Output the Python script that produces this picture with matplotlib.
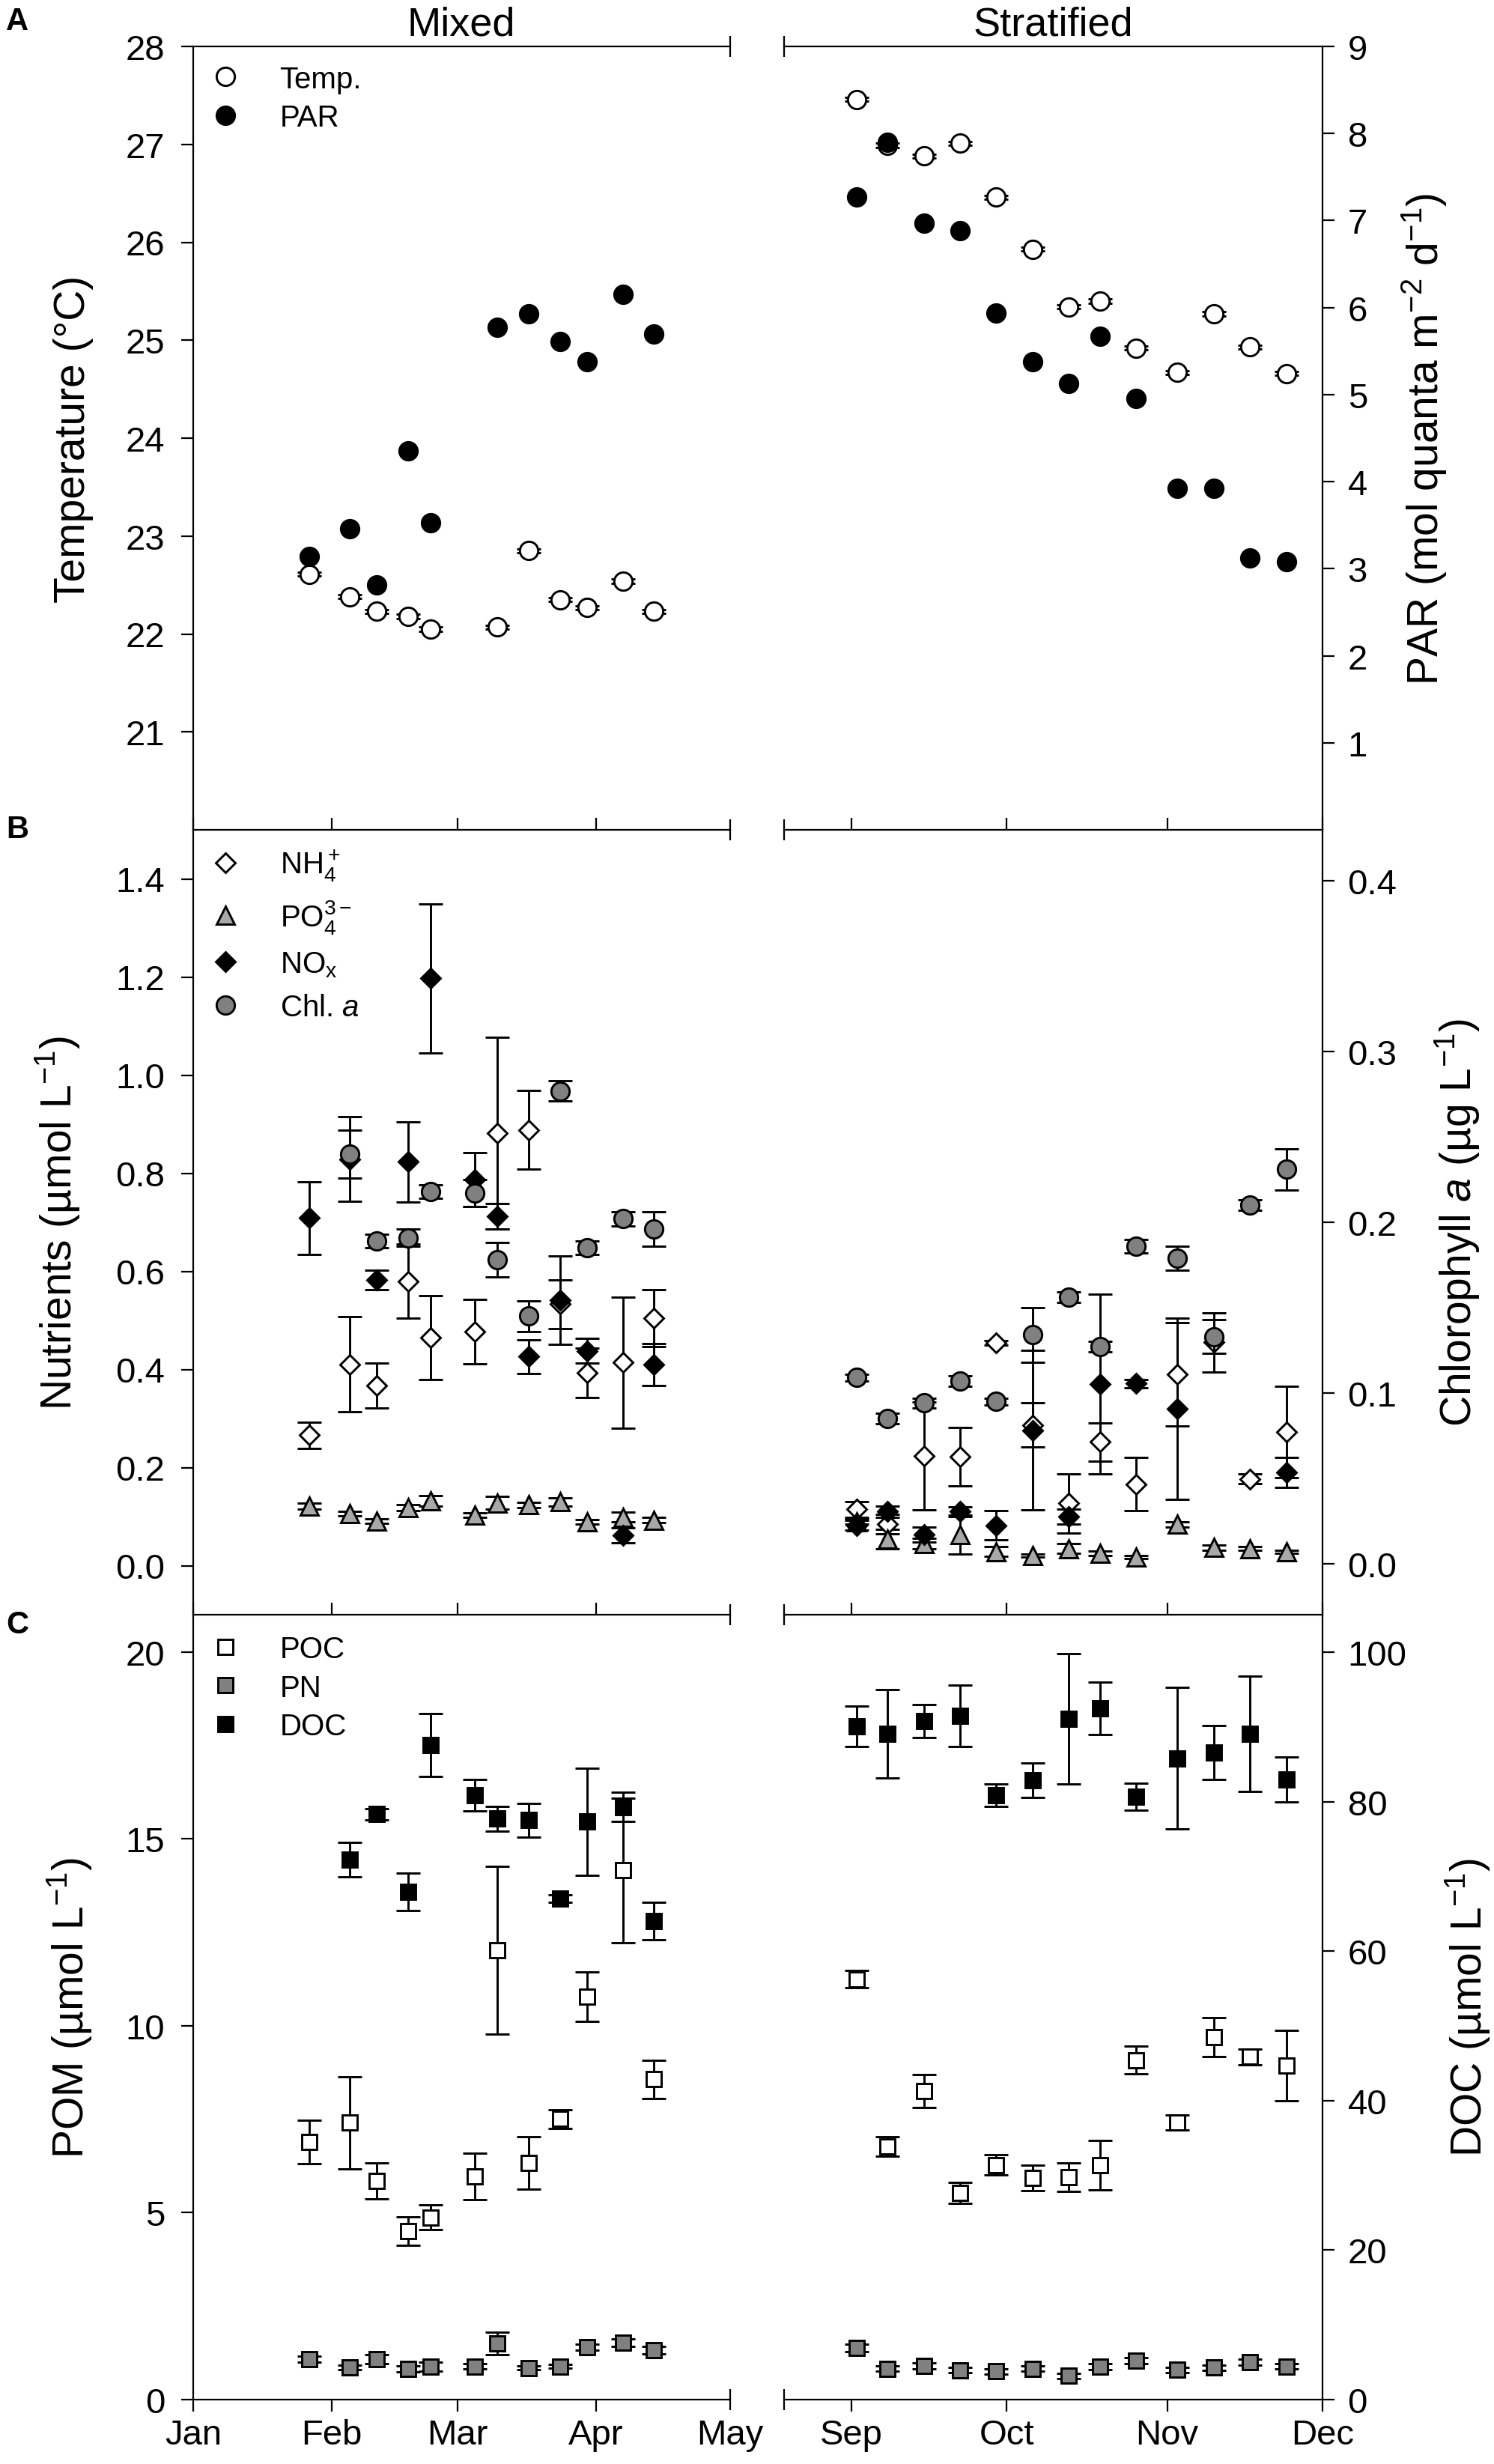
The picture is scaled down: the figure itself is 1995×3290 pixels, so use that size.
import numpy as np
import pandas as pd
import matplotlib
matplotlib.use("Agg")
import matplotlib.pyplot as plt
import matplotlib.dates as mdates
from matplotlib.lines import Line2D
from matplotlib.ticker import FixedLocator, FormatStrFormatter, NullFormatter

plt.rcParams.update({
    "font.family": ["Liberation Sans", "DejaVu Sans"],
    "mathtext.fontset": "custom",
    "mathtext.rm": "Liberation Sans",
    "mathtext.it": "Liberation Sans:italic",
    "mathtext.bf": "Liberation Sans:bold",
    "mathtext.default": "regular",
})

nan = np.nan

# ---------------- data ----------------
period_titles = ["Mixed", "Stratified"]
mixed_dates = ["2017-01-27", "2017-02-05", "2017-02-11", "2017-02-18", "2017-02-23",
               "2017-03-05", "2017-03-10", "2017-03-17", "2017-03-24", "2017-03-30",
               "2017-04-07", "2017-04-14"]
strat_dates = ["2017-09-02", "2017-09-08", "2017-09-15", "2017-09-22", "2017-09-29",
               "2017-10-06", "2017-10-13", "2017-10-19", "2017-10-26", "2017-11-03",
               "2017-11-10", "2017-11-17", "2017-11-24"]
mixed_xlim = ["2017-01-01", "2017-05-01"]
strat_xlim = ["2017-08-19", "2017-12-01"]
mixed_month_ticks = ["2017-01-01", "2017-02-01", "2017-03-01", "2017-04-01"]
strat_month_ticks = ["2017-09-01", "2017-10-01", "2017-11-01", "2017-12-01"]

# Panel A
temp_mixed = [22.61, 22.38, 22.23, 22.18, 22.05, nan, 22.07, 22.85, 22.35, 22.27, 22.54, 22.23]
temp_mixed_err = [0.02, 0.02, 0.02, 0.02, 0.02, nan, 0.02, 0.02, 0.02, 0.02, 0.02, 0.02]
par_mixed = [3.14, 3.46, 2.81, 4.35, 3.53, nan, 5.77, 5.93, 5.61, 5.38, 6.15, 5.70]
temp_strat = [27.46, 26.99, 26.88, 27.01, 26.46, 25.93, 25.34, 25.40, 24.92, 24.67, 25.27, 24.93, 24.66]
temp_strat_err = [0.02, 0.02, 0.02, 0.02, 0.02, 0.02, 0.02, 0.02, 0.02, 0.02, 0.02, 0.02, 0.02]
par_strat = [7.27, 7.90, 6.97, 6.88, 5.94, 5.38, 5.13, 5.67, 4.96, 3.92, 3.92, 3.12, 3.08]

# Panel B
nh4_mixed = [0.266, 0.41, 0.367, 0.58, 0.465, 0.477, 0.882, 0.888, 0.533, 0.393, 0.414, 0.505]
nh4_mixed_err = [0.027, 0.097, 0.046, 0.075, 0.085, 0.066, 0.195, 0.08, 0.05, 0.05, 0.134, 0.058]
po4_mixed = [0.121, 0.106, 0.091, 0.118, 0.132, 0.103, 0.128, 0.124, 0.130, 0.089, 0.099, 0.093]
po4_mixed_err = [0.006, 0.005, 0.005, 0.006, 0.010, 0.005, 0.013, 0.005, 0.008, 0.005, 0.010, 0.005]
nox_mixed = [0.709, 0.829, 0.582, 0.823, 1.197, 0.787, 0.712, 0.426, 0.541, 0.438, 0.062, 0.410]
nox_mixed_err = [0.074, 0.087, 0.020, 0.082, 0.152, 0.055, 0.026, 0.035, 0.090, 0.025, 0.015, 0.043]
chl_mixed = [nan, 0.240, 0.189, 0.191, 0.218, 0.217, 0.178, 0.145, 0.277, 0.185, 0.202, 0.196]
chl_mixed_err = [nan, 0.014, 0.004, 0.005, 0.004, 0.008, 0.010, 0.009, 0.006, 0.004, 0.004, 0.010]

nh4_strat = [0.115, 0.085, 0.224, 0.222, 0.454, 0.287, 0.127, 0.252, 0.166, 0.390, 0.455, 0.177, 0.272]
nh4_strat_err = [0.016, 0.020, 0.110, 0.060, 0.005, 0.045, 0.060, 0.039, 0.054, 0.105, 0.060, 0.010, 0.093]
po4_strat = [0.090, 0.054, 0.045, 0.063, 0.029, 0.020, 0.035, 0.025, 0.018, 0.084, 0.037, 0.035, 0.028]
po4_strat_err = [0.005, 0.020, 0.010, 0.040, 0.010, 0.003, 0.010, 0.005, 0.003, 0.005, 0.005, 0.004, 0.003]
nox_strat = [0.082, 0.110, 0.063, 0.110, 0.082, 0.276, 0.100, 0.370, 0.371, 0.320, nan, nan, 0.190]
nox_strat_err = [0.010, 0.012, 0.015, 0.010, 0.030, 0.163, 0.015, 0.183, 0.008, 0.185, nan, nan, 0.030]
chl_strat = [0.109, 0.085, 0.094, 0.107, 0.095, 0.134, 0.156, 0.127, 0.186, 0.179, 0.133, 0.210, 0.231]
chl_strat_err = [0.002, 0.003, 0.003, 0.003, 0.002, 0.016, 0.003, 0.003, 0.004, 0.007, 0.010, 0.003, 0.012]

# Panel C
poc_mixed = [6.90, 7.41, 5.85, 4.50, 4.87, 5.97, 12.02, 6.34, 7.51, 10.78, 14.16, 8.57]
poc_mixed_err = [0.58, 1.23, 0.48, 0.38, 0.33, 0.62, 2.24, 0.70, 0.25, 0.67, 1.93, 0.51]
pn_mixed = [1.09, 0.86, 1.09, 0.83, 0.88, 0.89, 1.50, 0.85, 0.89, 1.41, 1.53, 1.32]
pn_mixed_err = [0.08, 0.06, 0.12, 0.08, 0.12, 0.07, 0.30, 0.05, 0.05, 0.08, 0.10, 0.10]
doc_mixed = [nan, 72.2, 78.3, 67.9, 87.6, 80.9, 77.7, 77.5, 67.0, 77.3, 79.3, 64.0]
doc_mixed_err = [nan, 2.3, 0.8, 2.5, 4.2, 2.1, 1.7, 2.3, 0.5, 7.2, 2.0, 2.5]

poc_strat = [11.25, 6.78, 8.25, 5.53, 6.28, 5.93, 5.96, 6.28, 9.08, 7.41, 9.69, 9.17, 8.93]
poc_strat_err = [0.23, 0.26, 0.44, 0.29, 0.27, 0.34, 0.38, 0.66, 0.37, 0.20, 0.52, 0.21, 0.94]
pn_strat = [1.39, 0.83, 0.91, 0.79, 0.76, 0.83, 0.64, 0.89, 1.05, 0.80, 0.86, 1.00, 0.89]
pn_strat_err = [0.10, 0.07, 0.08, 0.07, 0.07, 0.07, 0.07, 0.08, 0.08, 0.07, 0.07, 0.08, 0.07]
doc_strat = [90.1, 89.1, 90.8, 91.5, 80.9, 82.9, 91.1, 92.5, 80.7, 85.8, 86.6, 89.1, 83.0]
doc_strat_err = [2.7, 5.9, 2.2, 4.1, 1.5, 2.3, 8.7, 3.5, 1.8, 9.5, 3.6, 7.7, 3.0]

# axis scales / ticks
temp_lim, par_lim = (20, 28), (0, 9)
temp_ticks, par_ticks = [21, 22, 23, 24, 25, 26, 27, 28], [1, 2, 3, 4, 5, 6, 7, 8, 9]
nut_lim, chl_lim = (-0.1, 1.5), (-0.03, 0.43)
nut_ticks, chl_ticks = [0.0, 0.2, 0.4, 0.6, 0.8, 1.0, 1.2, 1.4], [0.0, 0.1, 0.2, 0.3, 0.4]
pom_lim, doc_lim = (0, 21), (0, 105)
pom_ticks, doc_ticks = [0, 5, 10, 15, 20], [0, 20, 40, 60, 80, 100]

legend_A = ["Temp.", "PAR"]
legend_B = ["NH$_4^+$", "PO$_4^{3-}$", "NO$_x$", r"Chl. $\mathit{a}$"]
legend_C = ["POC", "PN", "DOC"]
ylabels_left = ["Temperature (°C)", "Nutrients (µmol L$^{-1}$)", "POM (µmol L$^{-1}$)"]
ylabels_right = ["PAR (mol quanta m$^{-2}$ d$^{-1}$)", r"Chlorophyll $\mathit{a}$ (µg L$^{-1}$)",
                 "DOC (µmol L$^{-1}$)"]
panel_letters = ["A", "B", "C"]


def to_num(seq):
    return mdates.date2num(pd.to_datetime(seq).to_pydatetime())


# ---------------- layout ----------------
W, H = 1995, 3291
fig = plt.figure(figsize=(W / 100, H / 100), dpi=100)
col_px = [(258, 975), (1047, 1766)]
row_px = [(63, 1109), (1109, 2157), (2157, 3205)]


def frac_rect(c, r):
    x0, x1 = col_px[c]
    y0, y1 = row_px[r]
    return [x0 / W, 1 - y1 / H, (x1 - x0) / W, (y1 - y0) / H]


TICK = 11.2
TW = 1.6
LBL = 34
LW = 2.1
CAP = 11.6
GRAY = "#808080"
LGRAY = "#A8A8A8"

MS_O, MS_D, MS_T, MS_S = 17.5, 13.5, 17, 14.8

xlims = [mixed_xlim, strat_xlim]
months = [mixed_month_ticks, strat_month_ticks]
dates = [mixed_dates, strat_dates]


def eb(axis, x, y, yerr, marker, ms, face):
    axis.errorbar(x, y, yerr=yerr, fmt=marker, ms=ms, mfc=face, mec="black", mew=LW,
                  ecolor="black", elinewidth=LW, capsize=CAP, capthick=LW, ls="none")


def style(ax, tx, c, r, ylim_l, yt_l, ylim_r, yt_r, fmt):
    xl = to_num(xlims[c])
    ax.set_xlim(xl[0], xl[1])
    ax.xaxis.set_major_locator(FixedLocator(to_num(months[c])))
    ax.xaxis.set_minor_locator(FixedLocator([xl[1] if c == 0 else xl[0]]))
    ax.xaxis.set_major_formatter(mdates.DateFormatter("%b"))
    ax.xaxis.set_minor_formatter(mdates.DateFormatter("%b") if c == 0 else NullFormatter())
    ax.tick_params(axis="x", which="major", direction="out", length=TICK, width=TW,
                   top=(r > 0), bottom=(r == 2), labeltop=False, labelbottom=(r == 2),
                   labelsize=LBL, pad=7)
    ax.tick_params(axis="x", which="minor", direction="inout", length=2 * 10, width=TW,
                   top=True, bottom=(r == 2), labeltop=False,
                   labelbottom=(r == 2 and c == 0), labelsize=LBL, pad=8.2)
    for s in ["left", "right", "top", "bottom"]:
        tx.spines[s].set_visible(False)
        ax.spines[s].set_linewidth(TW)
        tx.spines[s].set_linewidth(TW)
    ax.spines["right"].set_visible(False)
    ax.spines["left"].set_visible(c == 0)
    ax.spines["bottom"].set_visible(r == 2)
    ax.spines["top"].set_visible(True)
    if c == 1:
        tx.spines["right"].set_visible(True)
    ax.set_ylim(*ylim_l)
    tx.set_ylim(*ylim_r)
    ax.yaxis.set_major_locator(FixedLocator(yt_l))
    tx.yaxis.set_major_locator(FixedLocator(yt_r))
    ax.yaxis.set_major_formatter(FormatStrFormatter(fmt))
    tx.yaxis.set_major_formatter(FormatStrFormatter(fmt))
    if c == 0:
        ax.tick_params(axis="y", which="both", left=True, right=False, direction="out",
                       length=TICK, width=TW, labelsize=LBL, pad=16, labelleft=True)
        tx.tick_params(axis="y", which="both", left=False, right=False,
                       labelleft=False, labelright=False)
    else:
        ax.tick_params(axis="y", which="both", left=False, right=False,
                       labelleft=False, labelright=False)
        tx.tick_params(axis="y", which="both", right=True, left=False, direction="out",
                       length=TICK, width=TW, labelsize=LBL, pad=13, labelright=True)


axes = {}
for c in range(2):
    for r in range(3):
        ax = fig.add_axes(frac_rect(c, r))
        tx = ax.twinx()
        axes[(c, r)] = (ax, tx)

series = [
    dict(temp=temp_mixed, temp_err=temp_mixed_err, par=par_mixed,
         nh4=nh4_mixed, nh4_err=nh4_mixed_err, po4=po4_mixed, po4_err=po4_mixed_err,
         nox=nox_mixed, nox_err=nox_mixed_err, chl=chl_mixed, chl_err=chl_mixed_err,
         poc=poc_mixed, poc_err=poc_mixed_err, pn=pn_mixed, pn_err=pn_mixed_err,
         doc=doc_mixed, doc_err=doc_mixed_err),
    dict(temp=temp_strat, temp_err=temp_strat_err, par=par_strat,
         nh4=nh4_strat, nh4_err=nh4_strat_err, po4=po4_strat, po4_err=po4_strat_err,
         nox=nox_strat, nox_err=nox_strat_err, chl=chl_strat, chl_err=chl_strat_err,
         poc=poc_strat, poc_err=poc_strat_err, pn=pn_strat, pn_err=pn_strat_err,
         doc=doc_strat, doc_err=doc_strat_err),
]

for c in range(2):
    d = series[c]
    x = to_num(dates[c])
    # Panel A
    ax, tx = axes[(c, 0)]
    eb(ax, x, d["temp"], d["temp_err"], "o", MS_O, "white")
    tx.plot(x, d["par"], "o", ms=MS_O, mfc="black", mec="black", mew=LW, ls="none")
    style(ax, tx, c, 0, temp_lim, temp_ticks, par_lim, par_ticks, "%g")
    # Panel B
    ax, tx = axes[(c, 1)]
    eb(ax, x, d["nh4"], d["nh4_err"], "D", MS_D, "white")
    eb(ax, x, d["po4"], d["po4_err"], "^", MS_T, LGRAY)
    eb(ax, x, d["nox"], d["nox_err"], "D", MS_D, "black")
    eb(tx, x, d["chl"], d["chl_err"], "o", MS_O, GRAY)
    style(ax, tx, c, 1, nut_lim, nut_ticks, chl_lim, chl_ticks, "%.1f")
    # Panel C
    ax, tx = axes[(c, 2)]
    eb(ax, x, d["poc"], d["poc_err"], "s", MS_S, "white")
    eb(ax, x, d["pn"], d["pn_err"], "s", MS_S, GRAY)
    eb(tx, x, d["doc"], d["doc_err"], "s", MS_S, "black")
    style(ax, tx, c, 2, pom_lim, pom_ticks, doc_lim, doc_ticks, "%g")


def h(marker, ms, face):
    return Line2D([], [], marker=marker, ms=ms, mfc=face, mec="black", mew=LW, ls="none")


leg_specs = [
    (legend_A, [h("o", MS_O, "white"), h("o", MS_O, "black")], 0.9765, 0.33),
    (legend_B, [h("D", MS_D, "white"), h("^", MS_T, LGRAY), h("D", MS_D, "black"),
                h("o", MS_O, GRAY)], 0.977, 0.48),
    (legend_C, [h("s", MS_S, "white"), h("s", MS_S, GRAY), h("s", MS_S, "black")], 0.974, 0.33),
]
for r, (labels, handles, ytop, spacing) in enumerate(leg_specs):
    ax, tx = axes[(0, r)]
    tx.legend(handles, labels, loc="upper left", bbox_to_anchor=(0.032, ytop),
              frameon=False, fontsize=29, borderpad=0, borderaxespad=0,
              handlelength=1.0, handletextpad=1.3, labelspacing=spacing, numpoints=1)

# titles, letters, axis labels (pixel positions)
fig.text(616 / W, 1 - 47 / H, period_titles[0], ha="center", va="baseline", fontsize=39)
fig.text(1406 / W, 1 - 47 / H, period_titles[1], ha="center", va="baseline", fontsize=39)
for letter, yb in zip(panel_letters, [40, 1119, 2181]):
    fig.text(8 / W, 1 - yb / H, letter, ha="left", va="baseline", fontsize=30,
             fontweight="bold")

left_x = [98, 77, 93]
right_x = [1902, 1945, 1960]
for r in range(3):
    yc = (row_px[r][0] + row_px[r][1]) / 2
    fig.text(left_x[r] / W, 1 - yc / H, ylabels_left[r], rotation=90, ha="center",
             va="center", fontsize=41)
    fig.text(right_x[r] / W, 1 - yc / H, ylabels_right[r], rotation=90, ha="center",
             va="center", fontsize=41)

fig.savefig("out.png", dpi=100)
